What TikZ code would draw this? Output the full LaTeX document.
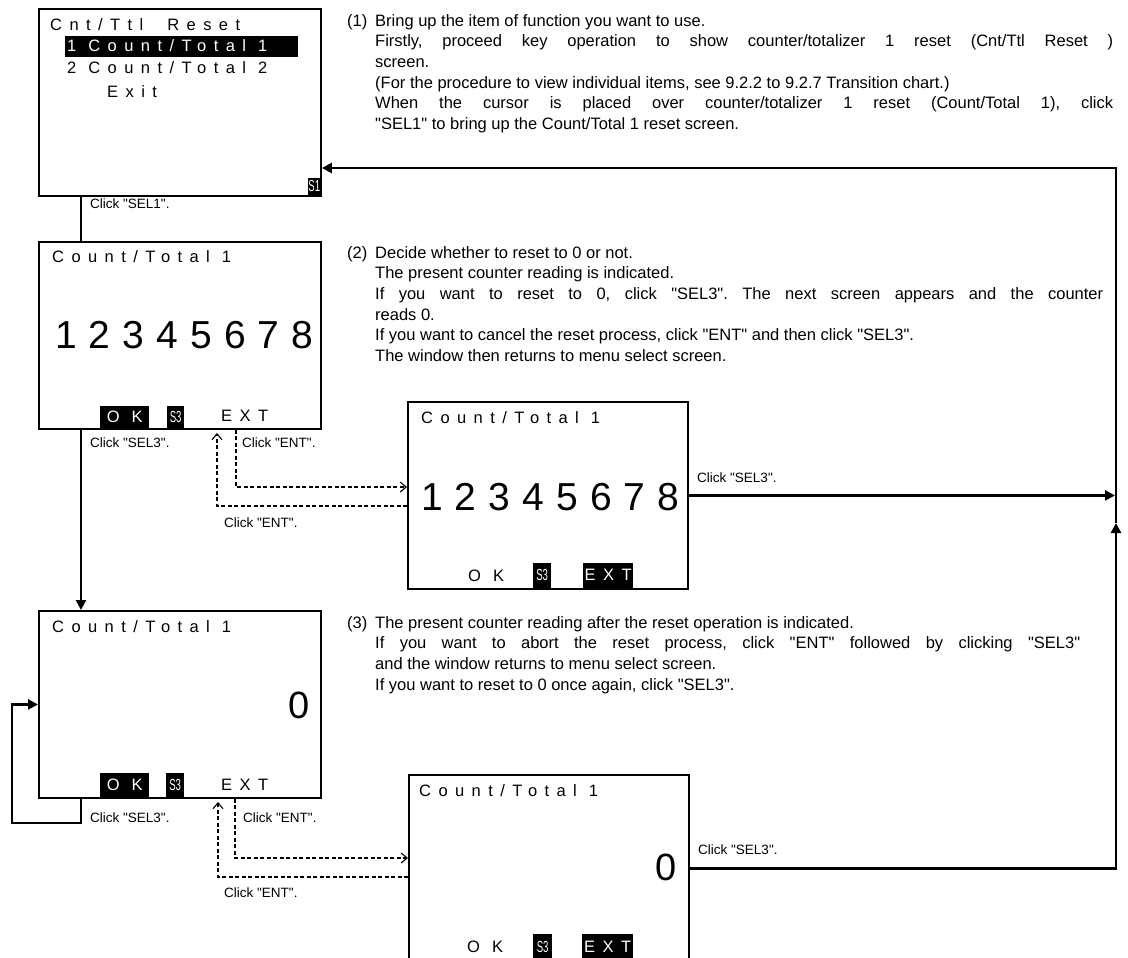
\documentclass[tikz,border=0pt]{standalone}
\usepackage{fontspec}
\setmainfont{Liberation Sans}[Ligatures=TeXOff]
\newfontfamily\lcdfont[LetterSpace=45]{Liberation Sans}
\newfontfamily\digitfont[LetterSpace=31]{Liberation Sans}
\newfontfamily\keyfont[FakeStretch=0.6]{Liberation Sans}
\usepackage{tikz}
\usetikzlibrary{positioning,arrows.meta,calc}
\newlength{\numw}\setlength{\numw}{28pt}
\newcommand{\jline}[2]{\makebox[#1][s]{#2}}
\frenchspacing
\tikzset{
  screen/.style={rectangle, draw=black, line width=1.9pt, fill=white,
                 anchor=north west, inner sep=0pt},
  lcd/.style={font=\lcdfont\fontsize{16.5}{17}\selectfont, inner sep=0pt, anchor=west},
  key/.style={lcd, fill=black, text=white},
  skey/.style={fill=black, text=white, inner sep=0pt,
               font=\keyfont\fontsize{16}{16}\selectfont},
  digits/.style={font=\digitfont\fontsize{39}{39}\selectfont, inner sep=0pt, anchor=west},
  zero/.style={font=\fontsize{38}{38}\selectfont, inner sep=0pt, anchor=east},
  para/.style={font=\fontsize{16.5}{20.7}\selectfont, inner sep=0pt,
               anchor=north west, align=left},
  lbl/.style={font=\fontsize{13.5}{14}\selectfont, inner sep=0pt, anchor=west},
  flow/.style={-{Triangle[length=10pt,width=10pt]}, line width=2.6pt},
  link/.style={line width=1.3pt},
  dflow/.style={-{Straight Barb[length=6pt,width=10pt]}, line width=1.1pt,
                dash pattern=on 4pt off 2.5pt},
}
\begin{document}
\begin{tikzpicture}[x=1pt, y=-1pt]
  \useasboundingbox (0,0) rectangle (1128,958);

  % --- screen: counter/totalizer reset menu ---
  \node[screen, minimum width=282pt, minimum height=187pt] (scrMenu) at (38,8) {};
  \node[lcd] (menuTitle) at (50,25) {Cnt/Ttl\ \ Reset};
  \node[key, anchor=north west, minimum width=233pt, minimum height=21pt] (menuBar) at (65,36) {};
  \node[lcd, text=white] (menuSel) at (67,46) {1 Count/Total 1};
  \node[lcd] (menuTwo) at (67,68) {2 Count/Total 2};
  \node[lcd] (menuExit) at (107,92) {Exit};
  \node[skey, anchor=south east, minimum width=13pt, minimum height=17pt] (keyS1) at (321,195) {S1};

  % --- screen: present reading ---
  \node[screen, minimum width=282pt, minimum height=187pt] (scrCnt) at (38,241) {};
  \node[lcd] (cntTitle) at (52,257) {Count/Total 1};
  \node[digits] (cntValue) at (55,335) {12345678};
  \node[key, anchor=south west, minimum width=49pt, minimum height=22pt] (cntOk) at (100,428) {O K};
  \node[skey, anchor=south west, minimum width=17pt, minimum height=22pt] (cntS3) at (167,428) {S3};
  \node[lcd] (cntExt) at (221,416) {EXT};

  % --- screen: reading, EXT selected ---
  \node[screen, minimum width=280pt, minimum height=187pt] (scrCntB) at (407,401) {};
  \node[lcd] (cntBTitle) at (421,418) {Count/Total 1};
  \node[digits] (cntBValue) at (421,497) {12345678};
  \node[lcd] (cntBOk) at (468,576) {O K};
  \node[skey, anchor=south west, minimum width=18pt, minimum height=25pt] (cntBS3) at (533,588) {S3};
  \node[key, anchor=south west, minimum width=50pt, minimum height=25pt] (cntBExt) at (583,588) {EXT};

  % --- screen: reading after reset ---
  \node[screen, minimum width=282pt, minimum height=187pt] (scrZero) at (38,610) {};
  \node[lcd] (zeroTitle) at (52,627) {Count/Total 1};
  \node[zero] (zeroValue) at (310,705) {0};
  \node[key, anchor=south west, minimum width=49pt, minimum height=24pt] (zeroOk) at (100,797) {O K};
  \node[skey, anchor=south west, minimum width=18pt, minimum height=24pt] (zeroS3) at (166,797) {S3};
  \node[lcd] (zeroExt) at (221,785) {EXT};

  % --- screen: after reset, EXT selected ---
  \node[screen, minimum width=280pt, minimum height=187pt] (scrZeroB) at (408,774) {};
  \node[lcd] (zeroBTitle) at (419,791) {Count/Total 1};
  \node[zero] (zeroBValue) at (677,867) {0};
  \node[lcd] (zeroBOk) at (467,947) {O K};
  \node[skey, anchor=south west, minimum width=19pt, minimum height=27pt] (zeroBS3) at (533,961) {S3};
  \node[key, anchor=south west, minimum width=51pt, minimum height=27pt] (zeroBExt) at (582,961) {EXT};

  % --- step texts ---
  \node[para] (stepOne) at (347,14) {%
    \makebox[\numw][l]{(1)}Bring up the item of function you want to use.\\
    \hspace*{\numw}\jline{738pt}{Firstly, proceed key operation to show counter/totalizer 1 reset (Cnt/Ttl Reset )}\\
    \hspace*{\numw}screen.\\
    \hspace*{\numw}(For the procedure to view individual items, see 9.2.2 to 9.2.7 Transition chart.)\\
    \hspace*{\numw}\jline{738pt}{When the cursor is placed over counter/totalizer 1 reset (Count/Total 1), click}\\
    \hspace*{\numw}"SEL1" to bring up the Count/Total 1 reset screen.};

  \node[para] (stepTwo) at (347,246) {%
    \makebox[\numw][l]{(2)}Decide whether to reset to 0 or not.\\
    \hspace*{\numw}The present counter reading is indicated.\\
    \hspace*{\numw}\jline{728pt}{If you want to reset to 0, click "SEL3". The next screen appears and the counter}\\
    \hspace*{\numw}reads 0.\\
    \hspace*{\numw}If you want to cancel the reset process, click "ENT" and then click "SEL3".\\
    \hspace*{\numw}The window then returns to menu select screen.};

  \node[para] (stepThree) at (347,616) {%
    \makebox[\numw][l]{(3)}The present counter reading after the reset operation is indicated.\\
    \hspace*{\numw}\jline{705pt}{If you want to abort the reset process, click "ENT" followed by clicking "SEL3"}\\
    \hspace*{\numw}and the window returns to menu select screen.\\
    \hspace*{\numw}If you want to reset to 0 once again, click "SEL3".};

  % --- connector labels ---
  \node[lbl] (lblSelOne) at (90,204) {Click "SEL1".};
  \node[lbl] (lblSelA) at (90,443) {Click "SEL3".};
  \node[lbl] (lblEntA) at (242,443) {Click "ENT".};
  \node[lbl] (lblEntB) at (224,523) {Click "ENT".};
  \node[lbl] (lblSelB) at (697,478) {Click "SEL3".};
  \node[lbl] (lblSelC) at (90,818) {Click "SEL3".};
  \node[lbl] (lblEntC) at (243,818) {Click "ENT".};
  \node[lbl] (lblEntD) at (224,893) {Click "ENT".};
  \node[lbl] (lblSelD) at (698,850) {Click "SEL3".};

  % --- bend points ---
  \coordinate (leftX) at (81,0);
  \coordinate (loopCorner) at (12,823);
  \coordinate (entA1) at (236,487);
  \coordinate (entA2) at (217,506);
  \coordinate (entB1) at (235,858);
  \coordinate (entB2) at (218,877);
  \coordinate (railX) at (1116,0);
  \coordinate (railUp) at (1116,523);
  \coordinate (railTop) at (1116,168);

  % --- transitions ---
  \draw[link] (scrMenu.south -| leftX) -- (scrCnt.north -| leftX);
  \draw[flow] (scrCnt.south -| leftX) -- (scrZero.north -| leftX);
  \draw[flow] (scrZero.south -| leftX) |- (loopCorner) |- (scrZero.west);
  \draw[dflow] (scrCnt.south -| entA1) |- (scrCntB.west |- entA1);
  \draw[dflow, shorten >=3pt] (scrCntB.west |- entA2) -| (scrCnt.south -| entA2);
  \draw[dflow] (scrZero.south -| entB1) |- (scrZeroB.west |- entB1);
  \draw[dflow, shorten >=3pt] (scrZeroB.west |- entB2) -| (scrZero.south -| entB2);
  \draw[flow, shorten >=1pt] (scrCntB.east) -- (scrCntB.east -| railX);
  \draw[flow] (scrZeroB.east) -| (railUp);
  \draw[flow] (railUp) |- (scrMenu.east |- railTop);
\end{tikzpicture}
\end{document}
